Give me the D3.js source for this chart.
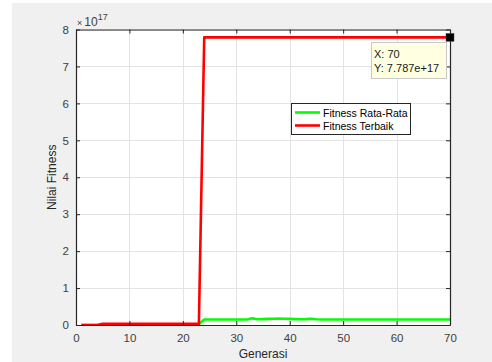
<!DOCTYPE html>
<html>
<head>
<meta charset="utf-8">
<script src="https://cdn.jsdelivr.net/npm/d3@7"></script>
<style>
  html, body { margin: 0; padding: 0; background: #ffffff; }
  svg { display: block; }
  text { font-family: "Liberation Sans", Arial, Helvetica, sans-serif; }
</style>
</head>
<body>
<svg id="chart" width="492" height="362"></svg>
<script>
// Generations 1..70, fitness values in units of 1e17
const generations = d3.range(1, 71);
const bestFitness = [
  0.0, 0.0, 0.0, 0.0, 0.03, 0.03, 0.03, 0.03, 0.03, 0.03,
  0.03, 0.03, 0.03, 0.03, 0.03, 0.03, 0.03, 0.03, 0.03, 0.03,
  0.03, 0.03, 0.03, 7.787, 7.787, 7.787, 7.787, 7.787, 7.787, 7.787,
  7.787, 7.787, 7.787, 7.787, 7.787, 7.787, 7.787, 7.787, 7.787, 7.787,
  7.787, 7.787, 7.787, 7.787, 7.787, 7.787, 7.787, 7.787, 7.787, 7.787,
  7.787, 7.787, 7.787, 7.787, 7.787, 7.787, 7.787, 7.787, 7.787, 7.787,
  7.787, 7.787, 7.787, 7.787, 7.787, 7.787, 7.787, 7.787, 7.787, 7.787
];
const avgFitness = [
  0.0, 0.0, 0.0, 0.0, 0.01, 0.01, 0.01, 0.01, 0.01, 0.01,
  0.01, 0.01, 0.01, 0.01, 0.01, 0.01, 0.01, 0.01, 0.01, 0.01,
  0.01, 0.01, 0.02, 0.15, 0.15, 0.15, 0.15, 0.15, 0.15, 0.15,
  0.15, 0.15, 0.18, 0.155, 0.16, 0.165, 0.17, 0.175, 0.17, 0.165,
  0.16, 0.155, 0.16, 0.17, 0.155, 0.15, 0.15, 0.15, 0.15, 0.15,
  0.15, 0.15, 0.15, 0.15, 0.15, 0.15, 0.15, 0.15, 0.15, 0.15,
  0.15, 0.15, 0.15, 0.15, 0.15, 0.15, 0.15, 0.15, 0.15, 0.15
];
const xTicks = [0, 10, 20, 30, 40, 50, 60, 70];
const yTicks = [0, 1, 2, 3, 4, 5, 6, 7, 8];
const seriesNames = ["Fitness Rata-Rata", "Fitness Terbaik"];
const seriesColors = ["#00ff00", "#ff0000"];
const xLabel = "Generasi";
const yLabel = "Nilai Fitness";
const tipIndex = 69;

const svg = d3.select("#chart");
const W = 492, H = 362;
const plot = { left: 76, top: 29.5, right: 450, bottom: 325 };

// figure background
svg.append("rect").attr("x", 12).attr("y", 3).attr("width", W - 12).attr("height", H - 3).attr("fill", "#f0f0f0");

const x = d3.scaleLinear().domain([0, 70]).range([plot.left, plot.right]);
const y = d3.scaleLinear().domain([0, 8]).range([plot.bottom, plot.top]);

// axes area
svg.append("rect")
  .attr("x", plot.left).attr("y", plot.top)
  .attr("width", plot.right - plot.left).attr("height", plot.bottom - plot.top)
  .attr("fill", "#ffffff");

// grid
const grid = svg.append("g").attr("stroke", "#e3e3e3").attr("stroke-width", 1);
xTicks.forEach(t => grid.append("line")
  .attr("x1", Math.round(x(t)) + 0.5).attr("x2", Math.round(x(t)) + 0.5)
  .attr("y1", plot.top).attr("y2", plot.bottom));
yTicks.forEach(t => grid.append("line")
  .attr("y1", Math.round(y(t)) + 0.5).attr("y2", Math.round(y(t)) + 0.5)
  .attr("x1", plot.left).attr("x2", plot.right));

// data lines
svg.append("clipPath").attr("id", "plotclip")
  .append("rect").attr("x", plot.left).attr("y", plot.top - 2)
  .attr("width", plot.right - plot.left + 2).attr("height", plot.bottom - plot.top + 2);

const line = d3.line().x(d => x(d[0])).y(d => y(d[1]));
const seriesData = [avgFitness, bestFitness];
const lines = svg.append("g").attr("clip-path", "url(#plotclip)");
[0, 1].forEach(i => {
  lines.append("path")
    .datum(generations.map((g, k) => [g, seriesData[i][k]]))
    .attr("d", line)
    .attr("fill", "none")
    .attr("stroke", seriesColors[i])
    .attr("stroke-width", 2.6)
    .attr("stroke-linejoin", "round");
});

// axes with inward ticks on all four sides
const axisColor = "#262626";
const tickLen = 4;
const xAxis = svg.append("g").attr("transform", `translate(0,${plot.bottom})`)
  .call(d3.axisBottom(x).tickValues(xTicks).tickSizeInner(-tickLen).tickSizeOuter(0).tickPadding(9));
const xAxisTop = svg.append("g").attr("transform", `translate(0,${plot.top})`)
  .call(d3.axisTop(x).tickValues(xTicks).tickSizeInner(-tickLen).tickSizeOuter(0).tickFormat(""));
const yAxis = svg.append("g").attr("transform", `translate(${plot.left},0)`)
  .call(d3.axisLeft(y).tickValues(yTicks).tickSizeInner(-tickLen).tickSizeOuter(0).tickPadding(7));
const yAxisRight = svg.append("g").attr("transform", `translate(${plot.right},0)`)
  .call(d3.axisRight(y).tickValues(yTicks).tickSizeInner(-tickLen).tickSizeOuter(0).tickFormat(""));

[xAxis, xAxisTop, yAxis, yAxisRight].forEach(a => {
  a.select(".domain").attr("stroke", axisColor).attr("stroke-width", 1.2);
  a.selectAll(".tick line").attr("stroke", axisColor);
  a.selectAll(".tick text").attr("fill", "#404040").style("font-size", "11.5px")
    .style("font-family", "'Liberation Sans', Arial, sans-serif");
});

// exponent label
const expo = svg.append("text").attr("x", 77).attr("y", 26)
  .attr("fill", "#404040").style("font-size", "12px");
expo.append("tspan").style("font-size", "9px").text("×");
expo.append("tspan").attr("dx", 2).text("10");
expo.append("tspan").attr("dy", -6).style("font-size", "9px").text("17");

// axis titles
svg.append("text").attr("x", (plot.left + plot.right) / 2).attr("y", 358)
  .attr("text-anchor", "middle").attr("fill", "#262626").style("font-size", "12px").text(xLabel);
svg.append("text")
  .attr("transform", `translate(56,${(plot.top + plot.bottom) / 2}) rotate(-90)`)
  .attr("text-anchor", "middle").attr("fill", "#262626").style("font-size", "12px").text(yLabel);

// legend
const lg = svg.append("g").attr("transform", "translate(291,103)");
lg.append("rect").attr("x", 0.5).attr("y", 0.5).attr("width", 119).attr("height", 31)
  .attr("fill", "#ffffff").attr("stroke", "#262626").attr("stroke-width", 1);
seriesNames.forEach((name, i) => {
  const ly = 9.5 + i * 13;
  lg.append("line").attr("x1", 4).attr("x2", 29).attr("y1", ly).attr("y2", ly)
    .attr("stroke", seriesColors[i]).attr("stroke-width", 2.6);
  lg.append("text").attr("x", 32).attr("y", ly + 4).attr("fill", "#000")
    .style("font-size", "10.5px").text(name);
});

// data tip at the last generation
const tx = x(generations[tipIndex]), ty = y(bestFitness[tipIndex]);
const tip = svg.append("g");
tip.append("rect").attr("x", 371.5).attr("y", 42.5).attr("width", 75).attr("height", 36)
  .attr("fill", "#ffffe1").attr("stroke", "#c8c8c8").attr("stroke-width", 1);
tip.append("text").attr("x", 374).attr("y", 58).attr("fill", "#1a1a1a").style("font-size", "11px")
  .text(`X: ${generations[tipIndex]}`);
tip.append("text").attr("x", 374).attr("y", 72).attr("fill", "#1a1a1a").style("font-size", "11px")
  .text(`Y: ${bestFitness[tipIndex]}e+17`);
tip.append("rect").attr("x", tx - 4).attr("y", ty - 4).attr("width", 8).attr("height", 8)
  .attr("fill", "#000").attr("stroke", "#555").attr("stroke-width", 0.5);
</script>
</body>
</html>
